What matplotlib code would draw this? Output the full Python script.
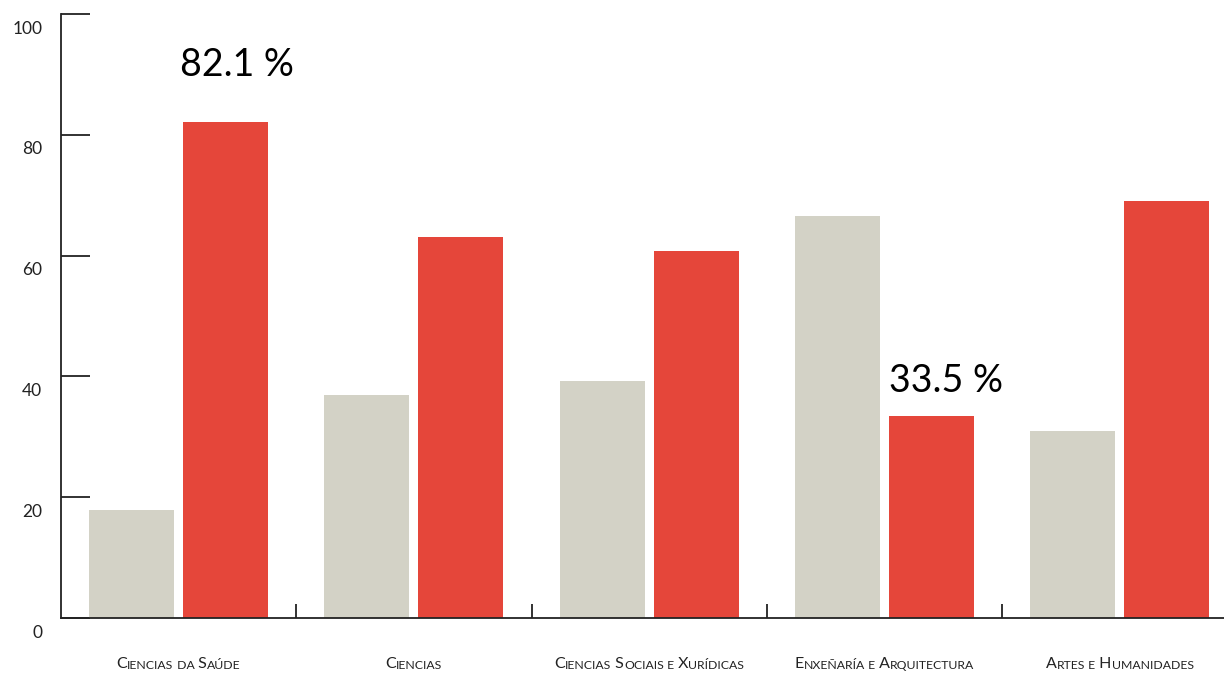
import numpy as np
import matplotlib
matplotlib.use('Agg')
import matplotlib.pyplot as plt
import matplotlib.transforms as mtransforms

plt.rcParams['font.family'] = ['Lato', 'DejaVu Sans']

# data
categories = ['Ciencias da Saúde', 'Ciencias', 'Ciencias Sociais e Xurídicas',
              'Enxeñaría e Arquitectura', 'Artes e Humanidades']
gray_vals = [17.9, 36.9, 39.2, 66.5, 31.0]
red_vals = [82.1, 63.1, 60.8, 33.5, 69.0]
callouts = {0: '82.1 %', 3: '33.5 %'}
y_ticks = [0, 20, 40, 60, 80, 100]

gray = '#D3D2C6'
red = '#E5463A'
ink = '#222222'

fig = plt.figure(figsize=(12.24, 6.73), dpi=100)
fig.patch.set_facecolor('white')
ax = fig.add_axes([61/1224, 55/673, 1163/1224, 604/673])

x = np.arange(len(categories))
w = 0.361
ax.bar(x - 0.2, gray_vals, w, color=gray, zorder=2)
ax.bar(x + 0.2, red_vals, w, color=red, zorder=2)

ax.set_xlim(-0.5, -0.5 + 1163/235.25)
ax.set_ylim(0, 100)

for s in ['top', 'right']:
    ax.spines[s].set_visible(False)
for s in ['left', 'bottom']:
    ax.spines[s].set_color(ink)
    ax.spines[s].set_linewidth(1.3)

# y ticks: inward, labels dropped below each tick
ax.set_yticks(y_ticks)
ax.tick_params(axis='y', direction='in', length=21, width=1.3, color=ink,
               pad=13.5, labelsize=12.5, labelcolor=ink)
shift = mtransforms.ScaledTranslation(0, -13/100, fig.dpi_scale_trans)
for lab in ax.get_yticklabels():
    lab.set_transform(lab.get_transform() + shift)

# x ticks: small marks between groups only
ax.set_xticks([])
ax.set_xticks(x[:-1] + 0.5, minor=True)
ax.tick_params(axis='x', which='minor', direction='in', length=10, width=1.3,
               color=ink, labelbottom=False)

# callout values
for i, txt in callouts.items():
    off = 33 if i == 0 else 17
    ax.annotate(txt, xy=(x[i] + 0.2 - w/2, red_vals[i]), xytext=(-2 if i == 0 else 0, off),
                textcoords='offset points', ha='left', va='baseline',
                fontsize=27, color='black')


# small caps category labels
def small_caps(label, xc, big=11.5, small=8.8, dy=-53):
    pieces = []
    pending = ''
    for ch in label:
        if ch == ' ':
            pending += ' '
            continue
        size = big if ch.isupper() else small
        t = pending + ch.upper()
        pending = ''
        if pieces and pieces[-1][1] == size and not t.startswith(' '):
            pieces[-1][0] += t
        else:
            pieces.append([t, size])
    first = ax.annotate(pieces[0][0], xy=(xc, 0), xycoords=('data', 'axes fraction'),
                        xytext=(0, dy), textcoords='offset pixels',
                        ha='left', va='bottom', fontsize=pieces[0][1], color=ink)
    arts = [first]
    prev = first
    for t, s in pieces[1:]:
        prev = ax.annotate(t, xy=(1, 0), xycoords=prev, ha='left', va='bottom',
                           fontsize=s, color=ink)
        arts.append(prev)
    return first, arts


labels = [small_caps(c, xi) for c, xi in zip(categories, x)]
fig.canvas.draw()
r = fig.canvas.get_renderer()
for first, arts in labels:
    bbs = [a.get_window_extent(r) for a in arts]
    width = max(b.x1 for b in bbs) - min(b.x0 for b in bbs)
    first.xyann = (-width / 2, first.xyann[1])

fig.savefig('out.png', dpi=100, facecolor='white')
